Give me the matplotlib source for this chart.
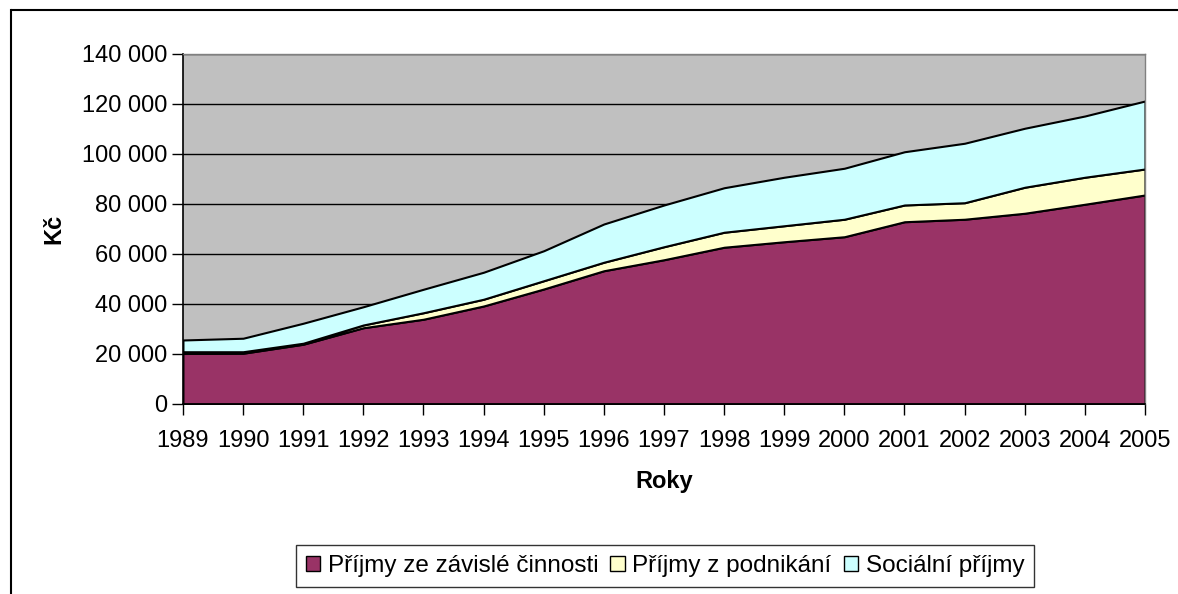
import numpy as np
import matplotlib.pyplot as plt
from matplotlib.patches import Patch
from matplotlib.lines import Line2D
from matplotlib.ticker import FuncFormatter

plt.rcParams['font.family'] = ['Liberation Sans', 'DejaVu Sans']

years = list(range(1989, 2006))
zavisla = [20200, 20300, 23900, 30500, 33900, 39200, 46000, 53300, 57700,
           62700, 64900, 66900, 72900, 73900, 76300, 79900, 83600]
podnikani = [700, 600, 400, 1100, 2600, 2700, 3300, 3400, 5200,
             6000, 6400, 7000, 6700, 6600, 10400, 10800, 10400]
socialni = [4700, 5400, 8000, 7300, 9400, 10800, 12000, 15300, 16700,
            17800, 19400, 20400, 21300, 23800, 23600, 24500, 27200]
labels = ['Příjmy ze závislé činnosti', 'Příjmy z podnikání', 'Sociální příjmy']
colors = ['#993366', '#FFFFCC', '#CCFFFF']

fig = plt.figure(figsize=(11.78, 5.94), dpi=100)
ax = fig.add_axes([0.1553, 0.3199, 0.8167, 0.5892])
ax.set_facecolor('#C0C0C0')

ax.stackplot(years, zavisla, podnikani, socialni, colors=colors,
             edgecolor='black', linewidth=1.5, zorder=2)

ax.set_xlim(1989, 2005)
ax.set_ylim(0, 140000)
ax.set_xticks(years)
ax.set_yticks(np.arange(0, 140001, 20000))
ax.yaxis.set_major_formatter(FuncFormatter(lambda v, p: f'{int(v):,}'.replace(',', ' ')))
ax.grid(axis='y', color='black', linewidth=1)
ax.set_axisbelow(True)
ax.tick_params(axis='both', direction='out', length=8, width=1, labelsize=17, color='black')
ax.tick_params(axis='x', pad=11)
for side in ['left', 'bottom']:
    ax.spines[side].set_color('black')
    ax.spines[side].set_linewidth(1.2)
for side in ['top', 'right']:
    ax.spines[side].set_color('#808080')
    ax.spines[side].set_linewidth(1)

ax.set_ylabel('Kč', fontsize=17, fontweight='bold', labelpad=12)
ax.set_xlabel('Roky', fontsize=17, fontweight='bold', labelpad=13)

handles = [Patch(facecolor=c, edgecolor='black', linewidth=1) for c in colors]
leg = fig.legend(handles, labels, loc='center', bbox_to_anchor=(0.5645, 0.047), ncol=3,
                 fontsize=17.5, frameon=True, fancybox=False, edgecolor='black',
                 handlelength=0.6, handleheight=0.6, handletextpad=0.3,
                 columnspacing=0.5, borderpad=0.4)
leg.get_frame().set_linewidth(1)

# outer chart border: only top and left edges are inside the picture
x0 = 11 / 1178
y0 = 1 - 10 / 594
fig.add_artist(Line2D([x0, 1.0], [y0, y0], transform=fig.transFigure,
                      color='black', linewidth=1.5, solid_capstyle='butt'))
fig.add_artist(Line2D([x0, x0], [0.0, y0], transform=fig.transFigure,
                      color='black', linewidth=1.5, solid_capstyle='projecting'))

fig.savefig('out.png', dpi=100)
